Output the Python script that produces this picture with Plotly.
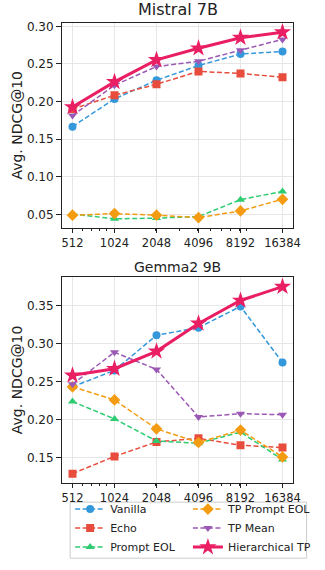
import numpy as np
import plotly.graph_objects as go

contexts = [512, 1024, 2048, 4096, 8192, 16384]
tick_labels = ["512", "1024", "2048", "4096", "8192", "16384"]
minor_vals = [600, 700, 800, 900, 2000, 3000, 4000, 5000, 6000, 7000, 8000, 9000]

series_names = ["Vanilla", "Echo", "Prompt EOL", "TP Prompt EOL", "TP Mean", "Hierarchical TP"]

mistral_vanilla = [0.1666, 0.2035, 0.2283, 0.2478, 0.2631, 0.2666]
mistral_echo = [0.190, 0.2083, 0.2230, 0.2400, 0.2374, 0.2322]
mistral_prompt_eol = [0.0505, 0.0440, 0.0450, 0.0470, 0.0695, 0.0805]
mistral_tp_prompt_eol = [0.0488, 0.0510, 0.0488, 0.0457, 0.0545, 0.0700]
mistral_tp_mean = [0.1813, 0.2217, 0.2465, 0.2535, 0.2683, 0.2826]
mistral_hier = [0.1927, 0.2261, 0.2553, 0.2709, 0.2849, 0.2922]

gemma_vanilla = [0.2433, 0.2649, 0.3111, 0.3211, 0.3491, 0.2753]
gemma_echo = [0.1290, 0.1517, 0.1707, 0.1755, 0.1664, 0.1634]
gemma_prompt_eol = [0.2239, 0.2010, 0.1720, 0.1690, 0.1837, 0.1475]
gemma_tp_prompt_eol = [0.2433, 0.2260, 0.1880, 0.1700, 0.1863, 0.1510]
gemma_tp_mean = [0.2468, 0.2887, 0.2662, 0.2036, 0.2079, 0.2066]
gemma_hier = [0.2584, 0.2671, 0.2900, 0.3267, 0.3569, 0.3751]

mistral = [mistral_vanilla, mistral_echo, mistral_prompt_eol, mistral_tp_prompt_eol, mistral_tp_mean, mistral_hier]
gemma = [gemma_vanilla, gemma_echo, gemma_prompt_eol, gemma_tp_prompt_eol, gemma_tp_mean, gemma_hier]

colors = ["#3498db", "#e74c3c", "#2ecc71", "#f39c12", "#9b59b6", "#e91e63"]
symbols = ["circle", "square", "triangle-up", "diamond", "triangle-down", "star"]
msizes = [8, 8, 8, 9, 8, 13]
dashes = ["5px,2.5px"] * 5 + ["solid"]
widths = [1.5] * 5 + [3]

FONT = "DejaVu Sans"
W, H = 325, 570
ML, MR, MT, MB = 62, 8, 23, 79
PW, PH = W - ML - MR, H - MT - MB
fig = go.Figure()

for panel, (data, xa, ya) in enumerate([(mistral, "x", "y"), (gemma, "x2", "y2")]):
    for i, name in enumerate(series_names):
        fig.add_trace(go.Scatter(
            x=contexts, y=data[i], xaxis=xa, yaxis=ya, name=name,
            mode="lines+markers",
            line=dict(color=colors[i], width=widths[i], dash=dashes[i]),
            marker=dict(symbol=symbols[i], size=msizes[i], color=colors[i],
                        line=dict(width=0)),
            showlegend=(panel == 1),
            legend="legend" if i < 3 else "legend2",
        ))

lo = np.log10(512)
hi = np.log10(16384)
pad = 0.05 * (hi - lo)

common_x = dict(
    type="log", range=[lo - pad, hi + pad],
    tickmode="array", tickvals=contexts, ticktext=tick_labels,
    ticks="outside", ticklen=4, tickwidth=1, tickcolor="#222",
    showline=True, linecolor="#222", linewidth=1, mirror=True,
    showgrid=True, gridcolor="#e6e6e6", gridwidth=1,
    tickfont=dict(family=FONT, size=11.5, color="#222"),
    minor=dict(tickmode="array", tickvals=minor_vals, ticks="outside",
               ticklen=2, tickcolor="#222", showgrid=False),
    zeroline=False,
)
common_y = dict(
    ticks="outside", ticklen=5, tickwidth=1, tickcolor="#222",
    showline=True, linecolor="#222", linewidth=1, mirror=True,
    showgrid=True, gridcolor="#e6e6e6", gridwidth=1,
    tickfont=dict(family=FONT, size=12, color="#222"),
    zeroline=False,
)


def px_x(p):
    return (p - ML) / PW


def px_y(p):
    return (H - MB - p) / PH


legend_common = dict(yanchor="top", xanchor="left",
                     bgcolor="rgba(0,0,0,0)", borderwidth=0,
                     font=dict(family=FONT, size=11, color="#222"),
                     tracegroupgap=0, itemwidth=30)

fig.update_layout(
    width=W, height=H,
    margin=dict(l=ML, r=MR, t=MT, b=MB),
    paper_bgcolor="white", plot_bgcolor="white",
    font=dict(family=FONT, color="#222"),
    xaxis=dict(common_x, domain=[0, 1], anchor="y"),
    yaxis=dict(common_y, domain=[0.554, 1], anchor="x",
               range=[0.0316, 0.3044], tickvals=[0.05, 0.10, 0.15, 0.20, 0.25, 0.30],
               ticktext=["0.05", "0.10", "0.15", "0.20", "0.25", "0.30"]),
    xaxis2=dict(common_x, domain=[0, 1], anchor="y2"),
    yaxis2=dict(common_y, domain=[0, 0.447], anchor="x2",
                range=[0.1167, 0.3873], tickvals=[0.15, 0.20, 0.25, 0.30, 0.35],
                ticktext=["0.15", "0.20", "0.25", "0.30", "0.35"]),
    legend=dict(legend_common, x=px_x(71), y=px_y(502.8)),
    legend2=dict(legend_common, x=px_x(201), y=px_y(502.8)),
    shapes=[dict(type="rect", xref="paper", yref="paper",
                 x0=px_x(71), x1=px_x(332),
                 y0=px_y(567.5), y1=px_y(510.5),
                 line=dict(color="#cccccc", width=1), fillcolor="rgba(0,0,0,0)",
                 layer="below")],
    annotations=[
        dict(text="Mistral 7B", xref="paper", yref="paper", x=0.5, y=1,
             xanchor="center", yanchor="bottom", yshift=2, showarrow=False,
             font=dict(family=FONT, size=16, color="#222")),
        dict(text="Gemma2 9B", xref="paper", yref="paper", x=0.5, y=0.447,
             xanchor="center", yanchor="bottom", yshift=0, showarrow=False,
             font=dict(family=FONT, size=14, color="#222")),
        dict(text="Avg. NDCG@10", xref="paper", yref="paper", x=0, y=0.777,
             xanchor="center", yanchor="middle", xshift=-45, textangle=-90,
             showarrow=False, font=dict(family=FONT, size=14, color="#222")),
        dict(text="Avg. NDCG@10", xref="paper", yref="paper", x=0, y=0.2235,
             xanchor="center", yanchor="middle", xshift=-45, textangle=-90,
             showarrow=False, font=dict(family=FONT, size=14, color="#222")),
    ],
)

fig.write_html("out.html")
